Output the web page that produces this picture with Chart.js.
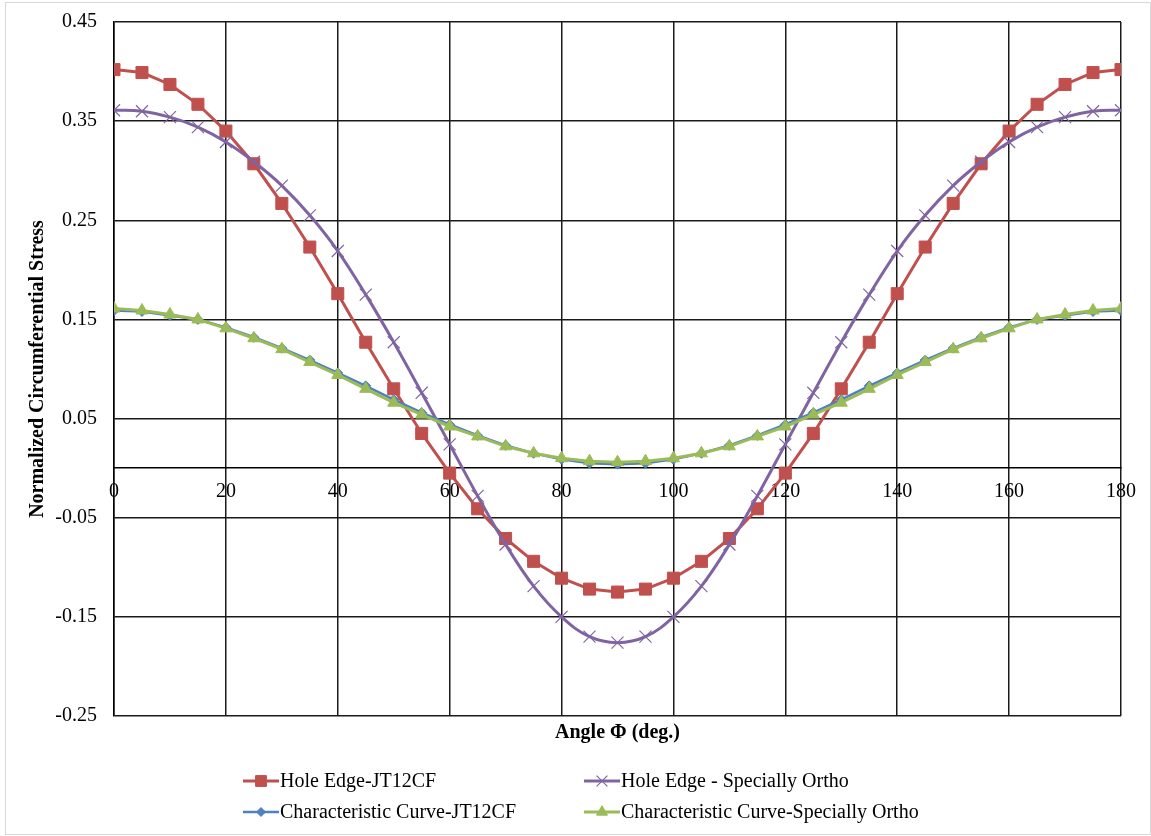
<!DOCTYPE html>
<html lang="en">
<head>
<meta charset="UTF-8">
<title>Normalized Circumferential Stress</title>
<script src="https://cdn.jsdelivr.net/npm/chart.js@4.4.1/dist/chart.umd.min.js"></script>
<style>
  body { margin: 0; background: #fff; }
  .frame { position: absolute; left: 5px; top: 2px; width: 1144px; height: 831px; border: 1px solid #d9d9d9; }
  #stressChart { position: absolute; left: 0; top: 0; }
</style>
</head>
<body>
<div class="frame"></div>
<canvas id="stressChart" width="1151" height="836"></canvas>
<script>
  // angle around the hole, degrees
  const angles = [0, 5, 10, 15, 20, 25, 30, 35, 40, 45, 50, 55, 60, 65, 70, 75, 80, 85, 90,
    95, 100, 105, 110, 115, 120, 125, 130, 135, 140, 145, 150, 155, 160, 165, 170, 175, 180];

  const holeEdgeJT = [0.402, 0.399, 0.387, 0.367, 0.340, 0.307, 0.267, 0.223, 0.176, 0.127,
    0.080, 0.035, -0.005, -0.041, -0.071, -0.094, -0.111, -0.122, -0.125, -0.122, -0.111,
    -0.094, -0.071, -0.041, -0.005, 0.035, 0.080, 0.127, 0.176, 0.223, 0.267, 0.307, 0.340,
    0.367, 0.387, 0.399, 0.402];

  const holeEdgeOrtho = [0.361, 0.360, 0.354, 0.344, 0.329, 0.309, 0.285, 0.255, 0.219, 0.175,
    0.127, 0.076, 0.024, -0.028, -0.077, -0.119, -0.150, -0.170, -0.176, -0.170, -0.150,
    -0.119, -0.077, -0.028, 0.024, 0.076, 0.127, 0.175, 0.219, 0.255, 0.285, 0.309, 0.329,
    0.344, 0.354, 0.360, 0.361];

  const charCurveJT = [0.159, 0.158, 0.154, 0.150, 0.142, 0.132, 0.121, 0.109, 0.096, 0.083,
    0.069, 0.056, 0.044, 0.033, 0.023, 0.015, 0.009, 0.005, 0.004, 0.005, 0.009, 0.015, 0.023,
    0.033, 0.044, 0.056, 0.069, 0.083, 0.096, 0.109, 0.121, 0.132, 0.142, 0.150, 0.154, 0.158,
    0.159];

  const charCurveOrtho = [0.161, 0.159, 0.155, 0.150, 0.141, 0.131, 0.120, 0.107, 0.094, 0.080,
    0.066, 0.054, 0.042, 0.032, 0.022, 0.015, 0.010, 0.007, 0.006, 0.007, 0.010, 0.015, 0.022,
    0.032, 0.042, 0.054, 0.066, 0.080, 0.094, 0.107, 0.120, 0.131, 0.141, 0.150, 0.155, 0.159,
    0.161];

  const seriesNames = ['Hole Edge-JT12CF', 'Hole Edge - Specially Ortho',
    'Characteristic Curve-JT12CF', 'Characteristic Curve-Specially Ortho'];

  const serif = '"Liberation Serif", "Times New Roman", serif';

  const toPoints = (vals) => angles.map((a, i) => ({ x: a, y: vals[i] }));

  const series = (label, vals, color, style, radius, extra) => Object.assign({
    label: label,
    data: toPoints(vals),
    borderColor: color,
    backgroundColor: color,
    pointBackgroundColor: color,
    pointBorderColor: color,
    pointStyle: style,
    pointRadius: radius,
    pointHoverRadius: radius,
    pointBorderWidth: 1,
    borderWidth: 3,
    tension: 0
  }, extra);

  // legend drawn as line + marker, two columns
  const legendCols = [243, 584];
  const legendRows = [781, 812];

  const lineLegend = {
    id: 'lineLegend',
    afterDraw(chart) {
      const ctx = chart.ctx;
      chart.data.datasets.forEach((ds, i) => {
        const x = legendCols[i % 2];
        const y = legendRows[Math.floor(i / 2)];
        ctx.save();
        ctx.strokeStyle = ds.borderColor;
        ctx.lineWidth = ds.borderWidth;
        ctx.beginPath();
        ctx.moveTo(x, y);
        ctx.lineTo(x + 36, y);
        ctx.stroke();
        ctx.fillStyle = ds.pointBackgroundColor;
        ctx.strokeStyle = ds.pointBorderColor;
        ctx.lineWidth = ds.pointBorderWidth;
        Chart.helpers.drawPoint(ctx, {
          pointStyle: ds.pointStyle,
          radius: ds.pointRadius * 0.9,
          rotation: 0,
          borderWidth: ds.pointBorderWidth
        }, x + 18, y);
        ctx.font = '20px ' + serif;
        ctx.fillStyle = '#000';
        ctx.textBaseline = 'middle';
        ctx.fillText(ds.label, x + 37, y + 1);
        ctx.restore();
      });
    }
  };

  new Chart(document.getElementById('stressChart'), {
    type: 'line',
    data: {
      datasets: [
        series(seriesNames[0], holeEdgeJT, '#C0504D', 'rect', 8.5, { order: 3 }),
        series(seriesNames[1], holeEdgeOrtho, '#8064A2', 'crossRot', 8.5,
          { order: 2, tension: 0.4, pointBorderWidth: 1.2 }),
        series(seriesNames[2], charCurveJT, '#4F81BD', 'rectRot', 5, { order: 1, borderWidth: 2.5 }),
        series(seriesNames[3], charCurveOrtho, '#9BBB59', 'triangle', 7, { order: 0 })
      ]
    },
    options: {
      responsive: false,
      animation: false,
      layout: { padding: { left: 5, top: 22, right: 30, bottom: 80 } },
      plugins: {
        legend: { display: false },
        tooltip: { enabled: false }
      },
      scales: {
        x: {
          type: 'linear',
          position: { y: 0 },
          min: 0,
          max: 180,
          grid: { color: '#1a1a1a', lineWidth: 1.5, drawTicks: false },
          border: { display: true, color: '#000', width: 1.5 },
          ticks: {
            stepSize: 20,
            autoSkip: false,
            maxRotation: 0,
            padding: 12,
            color: '#000',
            font: { family: serif, size: 20 }
          }
        },
        xTitle: {
          type: 'linear',
          axis: 'x',
          position: 'bottom',
          grid: { display: false },
          border: { display: false },
          ticks: { display: false },
          afterFit: (s) => { s.height = 40; },
          title: {
            display: true,
            text: 'Angle Φ (deg.)',
            color: '#000',
            font: { family: serif, size: 20, weight: 'bold' },
            padding: { top: 0, bottom: 11 }
          }
        },
        y: {
          min: -0.25,
          max: 0.45,
          grid: { color: '#1a1a1a', lineWidth: 1.5, drawTicks: false },
          border: { display: true, color: '#000', width: 1.5 },
          afterFit: (s) => {
            s.width = 109;
            // half a label of overhang is enough; the tick padding is horizontal only here
            s.paddingTop = 12;
            s.paddingBottom = 12;
          },
          ticks: {
            stepSize: 0.1,
            padding: 17,
            color: '#000',
            font: { family: serif, size: 20 },
            callback: (v) => v.toFixed(2)
          },
          title: {
            display: true,
            text: 'Normalized Circumferential Stress',
            color: '#000',
            font: { family: serif, size: 20, weight: 'bold' },
            padding: { top: 21, bottom: 0 }
          }
        }
      }
    },
    plugins: [lineLegend]
  });
</script>
</body>
</html>
